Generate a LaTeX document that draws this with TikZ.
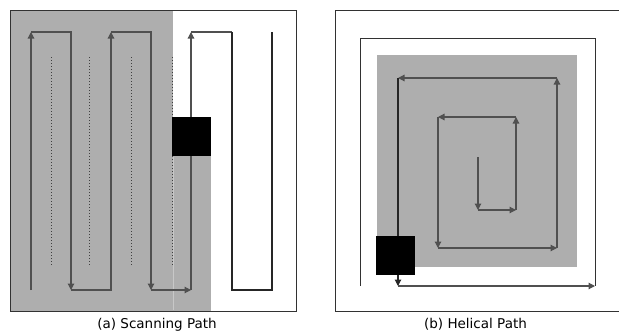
\documentclass[tikz,border=0pt]{standalone}
\usepackage{fontspec}
\setmainfont{DejaVu Sans}
\usetikzlibrary{arrows.meta}
\definecolor{panelgray}{RGB}{174,174,174}
\definecolor{seamgray}{RGB}{200,200,200}
\definecolor{pathgray}{RGB}{80,80,80}
\definecolor{framegray}{RGB}{50,50,50}
\tikzset{
  framebox/.style={draw=framegray, line width=1pt},
  route/.style={draw=pathgray, line width=1.2pt, line join=miter},
  routedark/.style={draw=black!85, line width=1.1pt},
  tipped/.style={-{Triangle[length=6.5pt,width=6.5pt]}},
  guide/.style={draw=black!75, line width=0.8pt, dash pattern=on 1pt off 2pt},
  robot/.style={fill=black, draw=none, minimum width=39pt, minimum height=39pt, inner sep=0pt, outer sep=0pt},
  caption/.style={font=\fontsize{13.5}{16}\selectfont, anchor=base, inner sep=0pt}
}
\begin{document}
\begin{tikzpicture}[x=1pt, y=-1pt]
\useasboundingbox (0,0) rectangle (619,332);
\clip (0,0) rectangle (619,332);

% ---------- (a) scanning path ----------
\fill[panelgray] (10,10) rectangle (173,311);
\fill[panelgray] (173,156) rectangle (211,311);
\draw[seamgray, line width=0.8pt] (173,157) -- (173,310);
\draw[framebox] (10,10) rectangle (296,311);

% covered-track guides
\foreach \gx in {51,89,131,172}
  \draw[guide] (\gx,57) -- (\gx,266);

% lanes
\coordinate (a1) at (31,290);  \coordinate (a2) at (31,32);
\coordinate (a3) at (71,32);   \coordinate (a4) at (71,290);
\coordinate (a5) at (111,290); \coordinate (a6) at (111,32);
\coordinate (a7) at (151,32);  \coordinate (a8) at (151,290);
\coordinate (a9) at (191,290); \coordinate (a10) at (191,32);
\coordinate (a11) at (232,32); \coordinate (a12) at (232,290);
\coordinate (a13) at (272,290);\coordinate (a14) at (272,32);

\draw[route, tipped] (a1) -- (a2);
\draw[route, tipped] (a2) -- (a3) -- (a4);
\draw[route, tipped] (a4) -- (a5) -- (a6);
\draw[route, tipped] (a6) -- (a7) -- (a8);
\draw[route, tipped] (a8) -- (a9);
\draw[route, tipped] (a9) -- (a10);
\draw[route] (a10) -- (a11);
\draw[routedark] (a11) -- (a12) -- (a13) -- (a14);

\node[robot] (botA) at (191.5,136.5) {};

\node[caption] (capA) at (157,328) {(a) Scanning Path};

% ---------- (b) helical path ----------
\draw[framebox] (625,10) -- (335,10) -- (335,311) -- (625,311);
\draw[framebox] (360,286) -- (360,38) -- (595,38) -- (595,286);
\fill[panelgray] (377,55) rectangle (577,267);

\coordinate (h0) at (478,157);
\coordinate (h1) at (478,210);
\coordinate (h2) at (516,210);
\coordinate (h3) at (516,117);
\coordinate (h4) at (438,117);
\coordinate (h5) at (438,248);
\coordinate (h6) at (557,248);
\coordinate (h7) at (557,78);
\coordinate (h8) at (398,78);
\coordinate (h9) at (398,250);
\coordinate (h10) at (398,286);
\coordinate (h11) at (595,286);

\draw[route, tipped] (h0) -- (h1);
\draw[route, tipped] (h1) -- (h2);
\draw[route, tipped] (h2) -- (h3);
\draw[route, tipped] (h3) -- (h4);
\draw[route, tipped] (h4) -- (h5);
\draw[route, tipped] (h5) -- (h6);
\draw[route, tipped] (h6) -- (h7);
\draw[route, tipped] (h7) -- (h8);
\draw[routedark] (h8) -- (h9);

\node[robot] (botB) at (395.5,255.5) {};

\draw[routedark, tipped] (botB.south -| h10) -- (h10);
\draw[route, tipped] (h10) -- (h11);

\node[caption] (capB) at (475.5,328) {(b) Helical Path};
\end{tikzpicture}
\end{document}
